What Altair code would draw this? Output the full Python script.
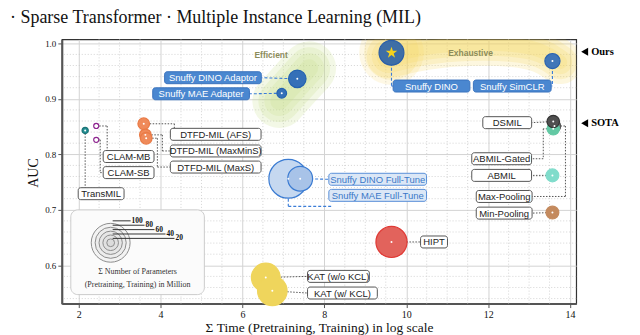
import altair as alt
import pandas as pd
import numpy as np

# ---------------- data ----------------
methods = ["TransMIL", "CLAM-MB", "CLAM-SB", "DTFD-MIL (AFS)", "DTFD-MIL (MaxMinS)", "DTFD-MIL (MaxS)",
           "Snuffy DINO Adaptor", "Snuffy MAE Adapter", "Snuffy DINO", "Snuffy SimCLR",
           "Max-Pooling", "ABMIL-Gated", "DSMIL", "ABMIL", "Min-Pooling",
           "Snuffy MAE Full-Tune", "Snuffy DINO Full-Tune", "HIPT", "KAT (w/o KCL)", "KAT (w/ KCL)"]
time_sum = [2.16, 2.43, 2.43, 3.59, 3.63, 3.65,
            7.34, 6.96, 9.64, 13.57,
            13.62, 13.59, 13.59, 13.57, 13.57,
            7.12, 7.41, 9.64, 6.57, 6.73]
auc = [0.843, 0.851, 0.826, 0.855, 0.835, 0.829,
       0.936, 0.910, 0.983, 0.968,
       0.851, 0.846, 0.859, 0.762, 0.695,
       0.756, 0.756, 0.642, 0.578, 0.554]
params = [16, 13, 13, 30, 30, 30,
          45, 25, 64, 39,
          32, 32, 32, 33, 33,
          100, 64, 80, 74, 76]

legend_params = [100, 80, 60, 40, 20]
x_ticks = [2, 4, 6, 8, 10, 12, 14]
y_ticks = [0.6, 0.7, 0.8, 0.9, 1.0]

# ---------------- label layout (data units) ----------------
label_left = [1.99, 2.60, 2.60, 4.24, 4.24, 4.24,
              4.10, 3.81, 9.68, 11.64,
              11.71, 11.60, 11.87, 11.60, 11.71,
              8.11, 8.11, 10.35, 7.59, 7.59]
label_y = [0.729, 0.796, 0.767, 0.836, 0.806, 0.777,
           0.938, 0.909, 0.923, 0.923,
           0.724, 0.792, 0.857, 0.762, 0.694,
           0.726, 0.755, 0.642, 0.580, 0.550]
label_w = [46, 51, 51, 91, 91, 91,
           97, 97, 77, 78,
           56, 60, 49, 60, 56,
           98, 98, 27, 62, 70]
label_kind = ["plain"] * 6 + ["blue"] * 4 + ["plain"] * 5 + ["light", "light"] + ["plain"] * 3

# ---------------- styles ----------------
fills = ["#238f93", "#ffffff", "#ffffff", "#ef8a5a", "#ef8a5a", "#ef8a5a",
         "#3570b8", "#3570b8", "#3e6ea6", "#4176b8",
         "#777777", "#63c9a4", "#505050", "#80dccb", "#c48a5e",
         "#c5d8f0", "#a8c3e8", "#e2635c", "#efd55c", "#efd55c"]
strokes = ["#1d7376", "#8e2590", "#8e2590", "#ea7a45", "#ea7a45", "#ea7a45",
           "#2462b0", "#2462b0", "#2a5ea8", "#2a62b0",
           "#555555", "#63c9a4", "#333333", "#80dccb", "#c48a5e",
           "#3a7bd2", "#3a7bd2", "#e03a35", "#efd55c", "#efd55c"]
fill_op = [1, 1, 1, 0.85, 0.85, 0.85,
           1, 1, 1, 1,
           1, 0.95, 1, 0.95, 0.95,
           0.55, 0.6, 0.9, 0.75, 0.75]
STAR = ("M0,-1L0.225,-0.309L0.951,-0.309L0.363,0.118L0.588,0.809L0,0.382"
        "L-0.588,0.809L-0.363,0.118L-0.951,-0.309L-0.225,-0.309Z")

SERIF = "Liberation Serif"
SANS = "Liberation Sans"

X0, X1 = 1.59, 14.15
Y0, Y1 = 0.531, 1.007
W, H = 516, 265
KX = W / (X1 - X0)
KY = H / (Y1 - Y0)


def fx(px):
    return X0 + px / KX


def fy(py):
    return Y1 - py / KY


def tx(x):
    return (x - X0) * KX


def ty(y):
    return (Y1 - y) * KY


xs = alt.Scale(domain=[X0, X1], nice=False, zero=False)
ys = alt.Scale(domain=[Y0, Y1], nice=False, zero=False)
xaxis = alt.Axis(values=x_ticks, format="d", title="Σ Time (Pretraining, Training) in log scale",
                 labelFont=SERIF, labelFontSize=10, labelColor="#111", titleFont=SERIF,
                 titleFontSize=13.5, titleFontWeight="normal", titleColor="#111",
                 titleX=W / 2, titleY=28.5, titleBaseline="alphabetic", titleAlign="center",
                 domainColor="#555", domainWidth=2, tickColor="#555", tickSize=4,
                 labelPadding=2, gridColor="#d3d3d3", gridWidth=1)
yaxis = alt.Axis(values=y_ticks, format=".1f", title="AUC",
                 labelFont=SERIF, labelFontSize=9, labelColor="#111", titleFont=SERIF,
                 titleFontSize=14, titleFontWeight="normal", titleColor="#111",
                 titleX=-28, titleY=H / 2 + 1, titleBaseline="middle", titleAlign="center",
                 titleAngle=270,
                 domainColor="#555", domainWidth=2, tickColor="#555", tickSize=4,
                 labelPadding=2, gridColor="#d3d3d3", gridWidth=1)


def X(f="x"):
    return alt.X(f"{f}:Q", scale=xs, axis=xaxis)


def Y(f="y"):
    return alt.Y(f"{f}:Q", scale=ys, axis=yaxis)


size_scale = alt.Scale(type="pow", exponent=2, domain=[0, 100], range=[0, 1520])

# ---------------- frames ----------------
n = len(methods)
pts = pd.DataFrame({"method": methods, "x": time_sum, "y": auc, "p": params,
                    "z": list(range(n))})

lab = pd.DataFrame({"method": methods, "x": label_left,
                    "x2": [label_left[i] + label_w[i] / KX for i in range(n)],
                    "xc": [label_left[i] + label_w[i] / KX / 2 for i in range(n)],
                    "ly": label_y,
                    "y": [label_y[i] - 6 / KY for i in range(n)],
                    "y2": [label_y[i] + 6 / KY for i in range(n)],
                    "kind": label_kind})

# connector routes (pixel offsets), split into straight segments
segs = []
for i, m in enumerate(methods):
    Px, Py = tx(time_sum[i]), ty(auc[i])
    L = tx(label_left[i]); R = L + label_w[i]
    cy = ty(label_y[i]); T = cy - 6; B = cy + 6
    if m == "TransMIL":
        path = [(Px, Py), (Px, T)]
    elif m in ("CLAM-MB", "DTFD-MIL (AFS)"):
        path = [(Px, Py), (L + 4, Py), (L + 4, T)]
    elif m == "CLAM-SB":
        path = [(Px, Py), (Px + 4, Py), (Px + 4, cy), (L, cy)]
    elif m == "DTFD-MIL (MaxMinS)":
        path = [(Px, Py), (L - 8, Py), (L - 8, cy), (L, cy)]
    elif m == "DTFD-MIL (MaxS)":
        path = [(Px, Py), (L - 13, Py), (L - 13, cy), (L, cy)]
    elif m in ("Snuffy DINO Adaptor", "Snuffy MAE Adapter", "DSMIL", "ABMIL", "Min-Pooling"):
        path = [(Px, Py), (R, cy)]
    elif m == "Snuffy DINO":
        path = [(Px, Py), (Px, cy), (L, cy)]
    elif m == "Snuffy SimCLR":
        path = [(Px, Py), (Px, cy), (R, cy)]
    elif m == "Max-Pooling":
        path = [(Px, Py), (Px + 11, Py), (Px + 11, cy), (R, cy)]
    elif m == "ABMIL-Gated":
        path = [(Px, Py), (Px - 10, Py), (Px - 10, cy), (R, cy)]
    elif m == "Snuffy MAE Full-Tune":
        path = [(Px, Py), (Px, B + 5), (L + 3, B + 5)]
    else:
        path = [(Px, Py), (L, cy)]
    style = "blue" if m.startswith("Snuffy") else "dark"
    for k in range(len(path) - 1):
        (a, b), (c, d) = path[k], path[k + 1]
        segs.append({"x": fx(a), "y": fy(b), "x2": fx(c), "y2": fy(d), "style": style})
con = pd.DataFrame(segs)

layers = []

# minor grid
minor_x = [float(v) for v in np.arange(2.0, 14.01, 0.5) if abs(v / 2 - round(v / 2)) > 1e-6]
minor_y = [round(float(v), 3) for v in np.arange(0.54, 1.0, 0.02) if abs(v * 10 - round(v * 10)) > 1e-6]
layers.append(alt.Chart(pd.DataFrame({"x": minor_x})).mark_rule(
    color="#c9c9c9", strokeDash=[1, 2], strokeWidth=0.8).encode(x=X()))
layers.append(alt.Chart(pd.DataFrame({"y": minor_y})).mark_rule(
    color="#c9c9c9", strokeDash=[1, 2], strokeWidth=0.8).encode(y=Y()))

# glows
green = pd.DataFrame({"x": [6.90, 7.27, 7.63], "y": [0.896, 0.926, 0.955], "o": [0, 1, 2]})
for w in [54, 42, 30, 18]:
    layers.append(alt.Chart(green).mark_line(color="#c9e08e", opacity=0.22, strokeWidth=w,
                                             strokeCap="round", strokeJoin="round",
                                             interpolate="basis", clip=True)
                  .encode(x=X(), y=Y(), order="o:Q"))
yellow = pd.DataFrame({"x": [9.57, 10.43, 11.52, 12.62, 13.35, 13.76],
                       "y": [0.977, 0.993, 1.000, 0.999, 0.988, 0.966], "o": list(range(6))})
for w in [44, 34, 24, 14]:
    layers.append(alt.Chart(yellow).mark_line(color="#f7d55e", opacity=0.2, strokeWidth=w,
                                              strokeCap="round", strokeJoin="round",
                                              interpolate="basis", clip=True)
                  .encode(x=X(), y=Y(), order="o:Q"))
dino_glow = pts[pts.method == "Snuffy DINO"]
for s, op in [(4200, 0.16), (3000, 0.2)]:
    layers.append(alt.Chart(dino_glow).mark_circle(color="#f7d55e", opacity=op, size=s, clip=True)
                  .encode(x=X(), y=Y()))

# connectors (straight segments)
layers.append(alt.Chart(con[con["style"] == "dark"]).mark_rule(
    color="#555", strokeDash=[1.5, 1.5], strokeWidth=1).encode(
    x=X(), y=Y(), x2=alt.X2("x2:Q"), y2=alt.Y2("y2:Q")))
layers.append(alt.Chart(con[con["style"] == "blue"]).mark_rule(
    color="#3b7dd8", strokeDash=[3, 2], strokeWidth=1.1).encode(
    x=X(), y=Y(), x2=alt.X2("x2:Q"), y2=alt.Y2("y2:Q")))

# points
layers.append(alt.Chart(pts).mark_point(shape="circle", filled=True, opacity=1, strokeWidth=1.2).encode(
    x=X(), y=Y(),
    size=alt.Size("p:Q", scale=size_scale, legend=None),
    fill=alt.Fill("method:N", scale=alt.Scale(domain=methods, range=fills), legend=None),
    stroke=alt.Stroke("method:N", scale=alt.Scale(domain=methods, range=strokes), legend=None),
    fillOpacity=alt.FillOpacity("method:N", scale=alt.Scale(domain=methods, range=fill_op), legend=None),
    order=alt.Order("z:Q")))
# star (custom path)
layers.append(alt.Chart(dino_glow).mark_point(shape=STAR, filled=True, color="#f6d21c",
                                              opacity=1, size=150)
              .encode(x=X(), y=Y()))
# white centre dots
dots = pts[~pts.method.isin(["CLAM-MB", "CLAM-SB", "Snuffy DINO"])]
layers.append(alt.Chart(dots).mark_circle(color="white", opacity=1, size=4).encode(x=X(), y=Y()))

# label boxes
box_style = {"plain": ("#ffffff", "#555555", "#222222"),
             "blue": ("#4a87d0", "#3a72bd", "#ffffff"),
             "light": ("#dbe7f6", "#5a90d8", "#3a78c8")}
for kind, (bf, bs, tc) in box_style.items():
    d = lab[lab.kind == kind]
    layers.append(alt.Chart(d).mark_rect(fill=bf, stroke=bs, strokeWidth=1, cornerRadius=2.5)
                  .encode(x=X(), x2=alt.X2("x2:Q"), y=Y(), y2=alt.Y2("y2:Q")))
    layers.append(alt.Chart(d).mark_text(font=SANS, fontSize=9.5, color=tc, baseline="middle",
                                         align="center", dy=0.5)
                  .encode(x=X("xc"), y=Y("ly"), text="method:N"))

# size legend
LCX, LCY = 49, 204
legbox = pd.DataFrame({"x": [fx(9)], "x2": [fx(143)], "y": [fy(256)], "y2": [fy(171)]})
layers.append(alt.Chart(legbox).mark_rect(fill="#fbfbfb", stroke="#cccccc", strokeWidth=1,
                                          cornerRadius=7)
              .encode(x=X(), x2=alt.X2("x2:Q"), y=Y(), y2=alt.Y2("y2:Q")))
leg = pd.DataFrame({"p": legend_params, "x": [fx(LCX)] * 5, "y": [fy(LCY)] * 5,
                    "z": list(range(5))})
layers.append(alt.Chart(leg).mark_point(shape="circle", filled=True, fill="#bdbdbd", fillOpacity=0.12,
                                        stroke="#8d8d8d", strokeWidth=1, opacity=1)
              .encode(x=X(), y=Y(), size=alt.Size("p:Q", scale=size_scale, legend=None),
                      order=alt.Order("z:Q")))
leg_label_px = [70, 84, 94, 105, 114]
leg_top = [LCY - 0.22 * p for p in legend_params]
leglines = pd.DataFrame({"x": [fx(LCX + 2)] * 5, "x2": [fx(v - 1) for v in leg_label_px],
                         "y": [fy(v) for v in leg_top]})
layers.append(alt.Chart(leglines).mark_rule(color="#333", strokeWidth=1)
              .encode(x=X(), x2=alt.X2("x2:Q"), y=Y()))
legtext = pd.DataFrame({"x": [fx(v) for v in leg_label_px], "y": [fy(v) for v in leg_top],
                        "t": [str(p) for p in legend_params]})
layers.append(alt.Chart(legtext).mark_text(font=SERIF, fontSize=7.5, fontWeight="bold",
                                           align="left", baseline="middle", color="#111")
              .encode(x=X(), y=Y(), text="t:N"))
legcap = pd.DataFrame({"x": [fx(76), fx(76)], "y": [fy(233.5), fy(246.5)],
                       "t": ["Σ Number of Parameters", "(Pretraining, Training) in Million"]})
layers.append(alt.Chart(legcap).mark_text(font=SERIF, fontSize=8, align="center",
                                          baseline="middle", color="#333")
              .encode(x=X(), y=Y(), text="t:N"))

# Efficient / Exhaustive
regions = pd.DataFrame({"x": [fx(210), fx(410)], "y": [fy(15.7), fy(13.7)],
                        "t": ["Efficient", "Exhaustive"]})
layers.append(alt.Chart(regions).mark_text(font=SANS, fontSize=8.5, fontWeight="bold",
                                           color="#8c8c5a", baseline="middle")
              .encode(x=X(), y=Y(), text="t:N"))

# Ours / SOTA markers
side = pd.DataFrame({"x": [fx(524.5), fx(524.5)], "xt": [fx(531), fx(531)],
                     "y": [fy(12.4), fy(84)], "t": ["Ours", "SOTA"]})
layers.append(alt.Chart(side).mark_point(shape="triangle-left", filled=True, color="black",
                                         opacity=1, size=65)
              .encode(x=X(), y=Y()))
layers.append(alt.Chart(side).mark_text(font=SERIF, fontSize=10.5, fontWeight="bold",
                                        align="left", baseline="middle", color="black")
              .encode(x=X("xt"), y=Y(), text="t:N"))

# top heading (partial caption)
head = pd.DataFrame({"x": [fx(-52)], "y": [fy(-16)],
                     "t": ["· Sparse Transformer · Multiple Instance Learning (MIL)"]})
layers.append(alt.Chart(head).mark_text(font=SERIF, fontSize=18, align="left",
                                        baseline="alphabetic", color="#111")
              .encode(x=X(), y=Y(), text="t:N"))

chart = alt.layer(*layers).properties(
    width=W, height=H,
    autosize=alt.AutoSizeParams(type="none"),
    padding={"left": 54, "top": 31, "right": 56, "bottom": 31},
).configure_view(stroke="#333", strokeWidth=1.2)

chart.save("out.html", embed_options={"renderer": "svg", "actions": False})
